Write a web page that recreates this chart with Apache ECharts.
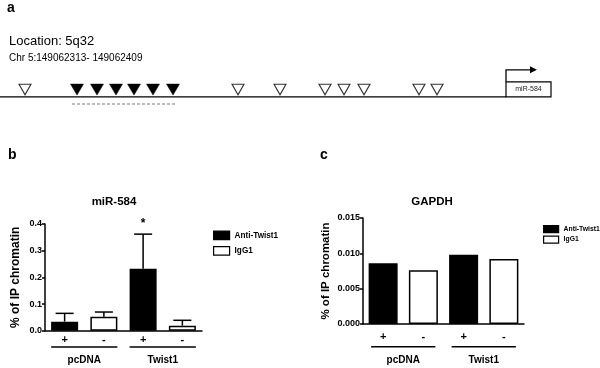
<!DOCTYPE html>
<html>
<head>
<meta charset="utf-8">
<script src="https://cdn.jsdelivr.net/npm/echarts@6/dist/echarts.min.js"></script>
<style>
body { margin: 0; background: #fff; }
#main { width: 600px; height: 368px; }
</style>
</head>
<body>
<div id="main"></div>
<script>
// panel a: binding sites along the promoter (relative positions)
var sitesOpen = [25, 238, 280, 325, 344, 364, 419, 437];
var sitesBound = [77, 97, 116, 134, 153, 173];
var probeRegion = [72, 177];
var genePos = [506, 551];

// panel b / c
var groups = ['pcDNA', 'Twist1'];
var treat = ['+', '-', '+', '-'];
var mirMean = [0.034, 0.052, 0.232, 0.019];
var mirErr = [0.031, 0.018, 0.130, 0.020];
var mirSig = ['', '', '*', ''];
var gapdhMean = [0.0086, 0.0076, 0.0098, 0.0092];

var font = 'Liberation Sans, Arial, sans-serif';

function splitBy(vals, sign) {
	return vals.map(function (v, i) { return treat[i] === sign ? v : null; });
}

function errRender(params, api) {
	var x = api.value(0), m = api.value(1), e = api.value(2);
	var p0 = api.coord([x, m]);
	var p1 = api.coord([x, m + e]);
	var kids = [
		{ type: 'line', shape: { x1: p0[0], y1: p0[1], x2: p1[0], y2: p1[1] }, style: { stroke: '#000', lineWidth: 1.5 } },
		{ type: 'line', shape: { x1: p1[0] - 9, y1: p1[1], x2: p1[0] + 9, y2: p1[1] }, style: { stroke: '#000', lineWidth: 1.5 } }
	];
	var s = mirSig[params.dataIndex];
	if (s) {
		kids.push({ type: 'text', x: p1[0], y: p1[1] - 10, style: { text: s, fill: '#000', font: 'bold 12px ' + font, align: 'center', verticalAlign: 'middle' } });
	}
	return { type: 'group', children: kids };
}

function groupRender(half, lineOff, textOff) {
	return function (params, api) {
		var a = api.coord([api.value(0), 0]);
		var b = api.coord([api.value(1), 0]);
		return { type: 'group', children: [
			{ type: 'line', shape: { x1: a[0] - half, y1: a[1] + lineOff, x2: b[0] + half, y2: a[1] + lineOff }, style: { stroke: '#000', lineWidth: 1.5 } },
			{ type: 'text', x: (a[0] + b[0]) / 2, y: a[1] + textOff, style: { text: groups[params.dataIndex], fill: '#000', font: 'bold 10px ' + font, align: 'center', verticalAlign: 'middle' } }
		] };
	};
}

function geneRender(params, api) {
	var p0 = api.coord([api.value(0), 0.33]);
	var p1 = api.coord([api.value(1), 0.33]);
	var h = 15, top = p0[1] - h;
	return { type: 'group', children: [
		{ type: 'rect', shape: { x: p0[0], y: top, width: p1[0] - p0[0], height: h }, style: { fill: '#fff', stroke: '#000', lineWidth: 1.2 } },
		{ type: 'text', x: (p0[0] + p1[0]) / 2, y: top + h / 2, style: { text: 'miR-584', fill: '#222', font: '7px ' + font, align: 'center', verticalAlign: 'middle' } },
		{ type: 'polyline', shape: { points: [[p0[0], top], [p0[0], top - 12], [p0[0] + 29, top - 12]] }, style: { fill: null, stroke: '#000', lineWidth: 1.3 } },
		{ type: 'polygon', shape: { points: [[p0[0] + 24, top - 15.5], [p0[0] + 31, top - 12], [p0[0] + 24, top - 8.5]] }, style: { fill: '#000' } }
	] };
}

var axisLine = { lineStyle: { color: '#000', width: 1.5 } };
var boldLabel = { color: '#000', fontWeight: 'bold', fontFamily: font };

var myChart = echarts.init(document.getElementById('main'));
var option = {
	animation: false,
	backgroundColor: '#fff',
	title: [
		{ text: 'miR-584', left: 114, top: 196, textAlign: 'center', padding: 0, textStyle: { fontSize: 11.5, fontWeight: 'bold', color: '#000', fontFamily: font } },
		{ text: 'GAPDH', left: 432, top: 196, textAlign: 'center', padding: 0, textStyle: { fontSize: 11.5, fontWeight: 'bold', color: '#000', fontFamily: font } }
	],
	graphic: [
		{ type: 'text', left: 7, top: 1, style: { text: 'a', font: 'bold 14px ' + font, fill: '#000' } },
		{ type: 'text', left: 8, top: 148, style: { text: 'b', font: 'bold 14px ' + font, fill: '#000' } },
		{ type: 'text', left: 320, top: 148, style: { text: 'c', font: 'bold 14px ' + font, fill: '#000' } },
		{ type: 'text', left: 9, top: 35, style: { text: 'Location: 5q32', font: '13px ' + font, fill: '#000' } },
		{ type: 'text', left: 9, top: 53, style: { text: 'Chr 5:149062313- 149062409', font: '10px ' + font, fill: '#000' } }
	],
	legend: [
		{ left: 213, top: 230.5, orient: 'vertical', padding: 0, icon: 'rect', itemWidth: 16, itemHeight: 8.5, itemGap: 5.8, selectedMode: false,
		  itemStyle: { borderColor: '#000', borderWidth: 1.2 },
		  textStyle: { fontSize: 8.2, fontWeight: 'bold', color: '#000', fontFamily: font },
		  data: ['Anti-Twist1', 'IgG1'] },
		{ left: 543, top: 225, orient: 'vertical', padding: 0, icon: 'rect', itemWidth: 15, itemHeight: 7, itemGap: 2.3, selectedMode: false,
		  itemStyle: { borderColor: '#000', borderWidth: 1.2 },
		  textStyle: { fontSize: 6.8, fontWeight: 'bold', color: '#000', fontFamily: font },
		  data: ['Anti-Twist1', 'IgG1'] }
	],
	grid: [
		{ left: 0, top: 70, width: 600, height: 40, outerBoundsMode: 'none' },
		{ left: 45, top: 224, width: 157, height: 106.7, outerBoundsMode: 'none' },
		{ left: 363, top: 218, width: 161, height: 106, outerBoundsMode: 'none' }
	],
	xAxis: [
		{ gridIndex: 0, type: 'value', min: 0, max: 600, show: false },
		{ gridIndex: 1, type: 'category', data: treat, axisLine: axisLine, axisTick: { show: false },
		  axisLabel: Object.assign({ fontSize: 11, margin: 4 }, boldLabel) },
		{ gridIndex: 2, type: 'category', data: treat, axisLine: axisLine, axisTick: { show: false },
		  axisLabel: Object.assign({ fontSize: 11, margin: 7 }, boldLabel) }
	],
	yAxis: [
		{ gridIndex: 0, type: 'value', min: 0, max: 1, show: false },
		{ gridIndex: 1, type: 'value', min: 0, max: 0.4, interval: 0.1, splitLine: { show: false },
		  axisLine: Object.assign({ show: true }, axisLine), axisTick: { show: true, length: 3, lineStyle: { color: '#000', width: 1.5 } },
		  axisLabel: Object.assign({ fontSize: 9, margin: 3, formatter: function (v) { return v.toFixed(1); } }, boldLabel),
		  name: '% of IP chromatin', nameLocation: 'middle', nameGap: 23,
		  nameTextStyle: { fontSize: 12, fontWeight: 'bold', color: '#000', fontFamily: font } },
		{ gridIndex: 2, type: 'value', min: 0, max: 0.015, interval: 0.005, splitLine: { show: false },
		  axisLine: Object.assign({ show: true }, axisLine), axisTick: { show: true, length: 3, lineStyle: { color: '#000', width: 1.5 } },
		  axisLabel: Object.assign({ fontSize: 9, margin: 3, formatter: function (v) { return v.toFixed(3); } }, boldLabel),
		  name: '% of IP chromatin', nameLocation: 'middle', nameGap: 31,
		  nameTextStyle: { fontSize: 11.5, fontWeight: 'bold', color: '#000', fontFamily: font } }
	],
	series: [
		// panel a
		{ type: 'line', xAxisIndex: 0, yAxisIndex: 0, data: [[0, 0.33], [genePos[0], 0.33]], symbol: 'none', silent: true,
		  lineStyle: { color: '#000', width: 1.3 } },
		{ type: 'line', xAxisIndex: 0, yAxisIndex: 0, data: [[probeRegion[0], 0.15], [probeRegion[1], 0.15]], symbol: 'none', silent: true,
		  lineStyle: { color: '#777', width: 1, type: [3, 2] } },
		{ type: 'scatter', xAxisIndex: 0, yAxisIndex: 0, data: sitesOpen.map(function (x) { return [x, 0.51]; }),
		  symbol: 'triangle', symbolRotate: 180, symbolSize: [12, 10.5],
		  itemStyle: { color: '#fff', borderColor: '#333', borderWidth: 1.1, opacity: 1 } },
		{ type: 'scatter', xAxisIndex: 0, yAxisIndex: 0, data: sitesBound.map(function (x) { return [x, 0.51]; }),
		  symbol: 'triangle', symbolRotate: 180, symbolSize: [13, 11],
		  itemStyle: { color: '#000', borderColor: '#000', borderWidth: 0.5, opacity: 1 } },
		{ type: 'custom', xAxisIndex: 0, yAxisIndex: 0, data: [genePos], renderItem: geneRender, silent: true },

		// panel b
		{ name: 'Anti-Twist1', type: 'bar', xAxisIndex: 1, yAxisIndex: 1, data: splitBy(mirMean, '+'), barWidth: 27, barGap: '-100%',
		  itemStyle: { color: '#000', borderColor: '#000', borderWidth: 1.5 } },
		{ name: 'IgG1', type: 'bar', xAxisIndex: 1, yAxisIndex: 1, data: splitBy(mirMean, '-'), barWidth: 27, barGap: '-100%',
		  itemStyle: { color: '#fff', borderColor: '#000', borderWidth: 1.5 } },
		{ type: 'custom', xAxisIndex: 1, yAxisIndex: 1, renderItem: errRender, z: 3,
		  data: mirMean.map(function (m, i) { return [i, m, mirErr[i]]; }) },
		{ type: 'custom', xAxisIndex: 1, yAxisIndex: 1, renderItem: groupRender(13.5, 16.3, 30), clip: false,
		  data: [[0, 1], [2, 3]] },

		// panel c
		{ name: 'Anti-Twist1', type: 'bar', xAxisIndex: 2, yAxisIndex: 2, data: splitBy(gapdhMean, '+'), barWidth: 29, barGap: '-100%',
		  itemStyle: { color: '#000', borderColor: '#000', borderWidth: 1.5 } },
		{ name: 'IgG1', type: 'bar', xAxisIndex: 2, yAxisIndex: 2, data: splitBy(gapdhMean, '-'), barWidth: 29, barGap: '-100%',
		  itemStyle: { color: '#fff', borderColor: '#000', borderWidth: 1.5 } },
		{ type: 'custom', xAxisIndex: 2, yAxisIndex: 2, renderItem: groupRender(12, 22.7, 36.7), clip: false,
		  data: [[0, 1], [2, 3]] }
	]
};
myChart.setOption(option);
</script>
</body>
</html>
